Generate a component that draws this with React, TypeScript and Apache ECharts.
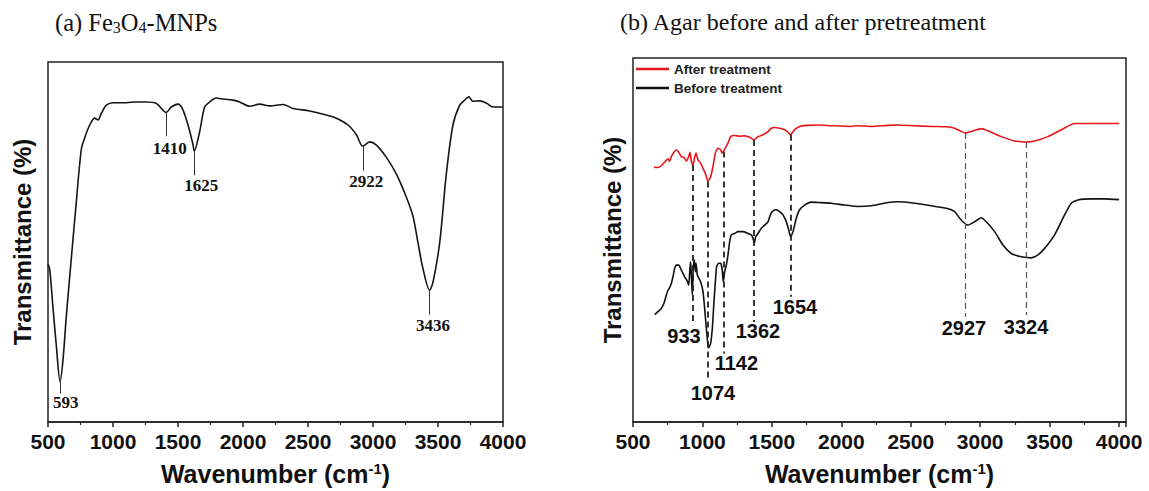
import React, { useEffect, useRef } from 'react';
import * as echarts from 'echarts';

// ---------- Panel (a): Fe3O4-MNPs ----------
const leftWn = [500, 513, 538, 564, 593, 615, 641, 679, 718, 756, 782, 821, 859, 885, 910, 949, 1000, 1103, 1179, 1256, 1333, 1410, 1449, 1500, 1533, 1577, 1615, 1625, 1667, 1705, 1744, 1795, 1833, 1923, 1974, 2051, 2128, 2205, 2308, 2385, 2513, 2641, 2718, 2808, 2872, 2922, 2974, 3026, 3103, 3179, 3256, 3308, 3346, 3385, 3436, 3462, 3513, 3564, 3615, 3667, 3705, 3736, 3769, 3821, 3872, 3923, 4000];
const leftT = [43.9, 42.5, 31.9, 21.2, 11.2, 17.1, 29.4, 45.3, 61.2, 75.7, 78.9, 82.5, 84.4, 83.9, 85.7, 88.0, 88.7, 88.7, 88.9, 88.9, 88.5, 86.0, 87.5, 88.3, 87.1, 82.5, 77.1, 75.3, 80.7, 87.5, 88.9, 90.0, 89.8, 89.4, 88.9, 87.7, 88.3, 87.8, 88.2, 87.1, 86.4, 85.3, 84.4, 82.5, 79.8, 76.6, 77.8, 76.9, 73.5, 68.9, 62.5, 57.1, 49.8, 42.5, 36.6, 38.9, 49.8, 68.9, 82.5, 88.0, 89.4, 90.3, 89.1, 89.2, 88.6, 87.5, 87.5];

const leftPeakLabels = ['593', '1410', '1625', '2922', '3436'];
const leftPeakWn = [593, 1410, 1625, 2922, 3436];
const leftLineTop = [11.2, 86.0, 75.3, 76.6, 36.6];
const leftLineBottom = [7.9, 79.4, 68.5, 69.8, 29.8];
const leftLabelWn = [636, 1436, 1679, 2949, 3462];
const leftLabelT = [5.3, 76.0, 65.7, 66.9, 26.9];

// ---------- Panel (b): Agar before / after pretreatment ----------
const afterWn = [651, 680, 704, 728, 752, 764, 776, 795, 812, 829, 848, 867, 884, 901, 910, 920, 932, 944, 954, 968, 987, 1004, 1021, 1040, 1059, 1076, 1093, 1112, 1131, 1141, 1153, 1172, 1189, 1203, 1232, 1268, 1304, 1340, 1371, 1400, 1436, 1472, 1496, 1520, 1556, 1592, 1616, 1633, 1664, 1700, 1748, 1832, 1928, 2072, 2120, 2216, 2336, 2408, 2528, 2648, 2756, 2816, 2864, 2893, 2936, 3008, 3056, 3152, 3248, 3332, 3392, 3488, 3584, 3680, 3800, 4000];
const afterT = [70.0, 69.9, 70.4, 71.4, 72.3, 71.6, 72.9, 74.1, 74.8, 74.1, 72.9, 72.7, 71.7, 72.9, 74.1, 71.7, 70.6, 72.7, 73.9, 72.0, 71.1, 69.7, 68.3, 66.1, 67.4, 70.2, 73.9, 75.2, 74.8, 73.9, 74.5, 75.7, 77.1, 78.4, 78.7, 78.5, 78.6, 78.2, 77.5, 78.4, 78.9, 79.8, 80.7, 80.9, 80.7, 80.3, 79.6, 78.9, 80.3, 81.2, 81.5, 81.6, 81.4, 81.2, 81.4, 81.2, 81.5, 81.6, 81.4, 81.2, 81.1, 80.7, 79.8, 79.4, 79.8, 80.6, 80.0, 78.4, 77.2, 76.9, 77.2, 78.4, 80.3, 82.0, 82.0, 82.0];

const beforeWn = [656, 680, 704, 723, 740, 752, 764, 776, 788, 800, 812, 829, 848, 872, 891, 901, 910, 915, 920, 927, 934, 942, 949, 954, 963, 973, 987, 1004, 1016, 1028, 1040, 1045, 1059, 1071, 1083, 1093, 1102, 1117, 1131, 1141, 1150, 1160, 1172, 1184, 1196, 1208, 1232, 1256, 1292, 1328, 1352, 1364, 1374, 1383, 1400, 1424, 1448, 1472, 1491, 1508, 1532, 1556, 1580, 1604, 1621, 1635, 1652, 1676, 1700, 1736, 1784, 1832, 1928, 2024, 2120, 2216, 2336, 2408, 2528, 2648, 2756, 2816, 2852, 2888, 2912, 2960, 3008, 3044, 3104, 3164, 3224, 3296, 3368, 3416, 3464, 3536, 3608, 3656, 3704, 3800, 3896, 4000];
const beforeT = [29.5, 30.3, 31.2, 32.6, 34.9, 36.2, 36.9, 38.1, 39.9, 42.2, 43.1, 43.1, 41.7, 39.9, 38.7, 37.6, 42.2, 44.0, 40.4, 34.9, 42.2, 44.5, 41.3, 43.6, 40.4, 39.6, 38.5, 35.8, 31.2, 25.7, 21.1, 20.4, 21.6, 25.7, 33.0, 38.5, 42.7, 43.6, 43.6, 42.2, 38.5, 41.3, 43.1, 45.9, 49.5, 51.4, 51.8, 52.3, 52.3, 51.8, 51.4, 50.5, 49.1, 50.9, 51.8, 53.2, 54.1, 55.0, 57.1, 58.0, 58.3, 57.8, 56.9, 55.0, 52.8, 50.9, 52.3, 56.0, 58.3, 59.6, 60.4, 60.3, 60.1, 59.6, 59.2, 59.4, 60.3, 60.5, 60.1, 59.4, 58.7, 57.8, 56.0, 54.6, 54.1, 55.0, 56.1, 55.0, 52.3, 48.6, 46.3, 45.4, 45.1, 45.9, 47.7, 51.4, 56.9, 60.1, 61.0, 61.3, 61.3, 61.1];

const rightPeakLabels = ['933', '1074', '1142', '1362', '1654', '2927', '3324'];
const rightPeakLineWn = [932, 1040, 1150, 1371, 1633, 2893, 3332];
const rightLineTop = [70.6, 66.1, 74.3, 77.5, 78.9, 79.4, 76.9];
const rightLineBottom = [26.6, 11.5, 18.8, 27.5, 34.4, 28.9, 29.4];
const rightLabelWn = [867, 1076, 1244, 1400, 1666, 2883, 3330];
const rightLabelT = [23.6, 8.1, 16.1, 25.0, 31.6, 25.7, 26.1];

const seriesNames = ['After treatment', 'Before treatment'];

const SANS = 'Arial, "Liberation Sans", Helvetica, sans-serif';
const SERIF = '"Times New Roman", "Liberation Serif", Times, serif';

const zip = (xs: number[], ys: number[]) => xs.map((x, i) => [x, ys[i]]);

function xAxisCfg(gridIndex: number, max: number) {
  return {
    type: 'value',
    gridIndex,
    min: 500,
    max,
    interval: 500,
    axisLine: { show: true, lineStyle: { color: '#222', width: 1.5 } },
    axisTick: { show: true, inside: false, length: 5, lineStyle: { color: '#222', width: 1.5 } },
    minorTick: { show: true, splitNumber: 2, length: 3, lineStyle: { color: '#222', width: 1.2 } },
    splitLine: { show: false },
    minorSplitLine: { show: false },
    axisLabel: {
      fontSize: 21,
      fontWeight: 'bold',
      fontFamily: SANS,
      color: '#111',
      margin: 9,
      showMaxLabel: max === 4000,
      formatter: (v: number) => String(v),
    },
    name: 'Wavenumber (cm{sup|-1})',
    nameLocation: 'middle',
    nameGap: 39,
    nameTextStyle: {
      fontSize: 25,
      fontWeight: 'bold',
      fontFamily: SANS,
      color: '#111',
      rich: {
        sup: { fontSize: 15, fontWeight: 'bold', fontFamily: SANS, color: '#111', verticalAlign: 'top' },
      },
    },
  };
}

function yAxisCfg(gridIndex: number, gap: number) {
  return {
    type: 'value',
    gridIndex,
    min: 0,
    max: 100,
    axisLine: { show: false },
    axisTick: { show: false },
    axisLabel: { show: false },
    splitLine: { show: false },
    name: 'Transmittance (%)',
    nameLocation: 'middle',
    nameGap: gap,
    nameTextStyle: { fontSize: 24, fontWeight: 'bold', fontFamily: SANS, color: '#111' },
  };
}

export default function App() {
  const ref = useRef<HTMLDivElement>(null);

  useEffect(() => {
    document.body.style.margin = '0';
    if (!ref.current) return;
    const chart = echarts.init(ref.current, null, { renderer: 'svg' });

    const option: any = {
      animation: false,
      backgroundColor: '#fff',
      title: [
        {
          text: '(a) Fe{s|3}O{s|4}-MNPs',
          left: 55,
          top: 10,
          padding: 0,
          textStyle: {
            fontFamily: SERIF,
            fontSize: 24.5,
            fontWeight: 'normal',
            color: '#111',
            rich: { s: { fontFamily: SERIF, fontSize: 16, color: '#111', verticalAlign: 'bottom' } },
          },
        },
        {
          text: '(b) Agar before and after pretreatment',
          left: 620,
          top: 10,
          padding: 0,
          textStyle: { fontFamily: SERIF, fontSize: 24, fontWeight: 'normal', color: '#111' },
        },
      ],
      legend: {
        data: seriesNames,
        left: 636,
        top: 62,
        padding: 0,
        orient: 'vertical',
        icon: 'rect',
        itemWidth: 33,
        itemHeight: 2.5,
        itemGap: 5,
        selectedMode: false,
        textStyle: { fontSize: 13.5, fontWeight: 'bold', fontFamily: SANS, color: '#222' },
      },
      grid: [
        { left: 48, top: 62, width: 455, height: 369, show: true, borderColor: '#222', borderWidth: 1.5, backgroundColor: 'transparent' },
        { left: 633, top: 58, width: 493, height: 364, show: true, borderColor: '#222', borderWidth: 1.5, backgroundColor: 'transparent' },
      ],
      xAxis: [xAxisCfg(0, 4000), xAxisCfg(1, 4050)],
      yAxis: [yAxisCfg(0, 14), yAxisCfg(1, 9)],
      series: [
        {
          type: 'line',
          name: 'Fe3O4-MNPs',
          xAxisIndex: 0,
          yAxisIndex: 0,
          data: zip(leftWn, leftT),
          showSymbol: false,
          smooth: 0.3,
          lineStyle: { color: '#151515', width: 1.6 },
          itemStyle: { color: '#151515' },
          silent: true,
          markLine: {
            silent: true,
            symbol: ['none', 'none'],
            label: { show: false },
            lineStyle: { color: '#333', width: 1, type: 'solid' },
            data: leftPeakWn.map((w, i) => [{ coord: [w, leftLineTop[i]] }, { coord: [w, leftLineBottom[i]] }]),
          },
        },
        {
          type: 'scatter',
          name: 'leftLabels',
          xAxisIndex: 0,
          yAxisIndex: 0,
          symbolSize: 1,
          itemStyle: { color: 'transparent', opacity: 1 },
          silent: true,
          data: leftLabelWn.map((w, i) => [w, leftLabelT[i], leftPeakLabels[i]]),
          label: {
            show: true,
            position: 'inside',
            formatter: (p: any) => p.value[2],
            fontFamily: SERIF,
            fontWeight: 'bold',
            fontSize: 17,
            color: '#111',
          },
        },
        {
          type: 'line',
          name: seriesNames[0],
          xAxisIndex: 1,
          yAxisIndex: 1,
          data: zip(afterWn, afterT),
          showSymbol: false,
          smooth: 0.2,
          lineStyle: { color: '#e8161b', width: 1.6 },
          itemStyle: { color: '#e8161b' },
          silent: true,
        },
        {
          type: 'line',
          name: seriesNames[1],
          xAxisIndex: 1,
          yAxisIndex: 1,
          data: zip(beforeWn, beforeT),
          showSymbol: false,
          smooth: 0.2,
          lineStyle: { color: '#111', width: 1.6 },
          itemStyle: { color: '#111' },
          silent: true,
          markLine: {
            silent: true,
            symbol: ['none', 'none'],
            label: { show: false },
            data: rightPeakLineWn.map((w, i) => [
              {
                coord: [w, rightLineTop[i]],
                lineStyle: i < 5
                  ? { color: '#222', width: 1.8, type: [6, 4] }
                  : { color: '#555', width: 1.2, type: [6, 4] },
              },
              { coord: [w, rightLineBottom[i]] },
            ]),
          },
        },
        {
          type: 'scatter',
          name: 'rightLabels',
          xAxisIndex: 1,
          yAxisIndex: 1,
          symbolSize: 1,
          itemStyle: { color: 'transparent', opacity: 1 },
          silent: true,
          data: rightLabelWn.map((w, i) => [w, rightLabelT[i], rightPeakLabels[i]]),
          label: {
            show: true,
            position: 'inside',
            formatter: (p: any) => p.value[2],
            fontFamily: SANS,
            fontWeight: 'bold',
            fontSize: 20,
            color: '#111',
          },
        },
      ],
    };

    chart.setOption(option);
    return () => chart.dispose();
  }, []);

  return <div ref={ref} style={{ width: 1149, height: 491 }} />;
}
